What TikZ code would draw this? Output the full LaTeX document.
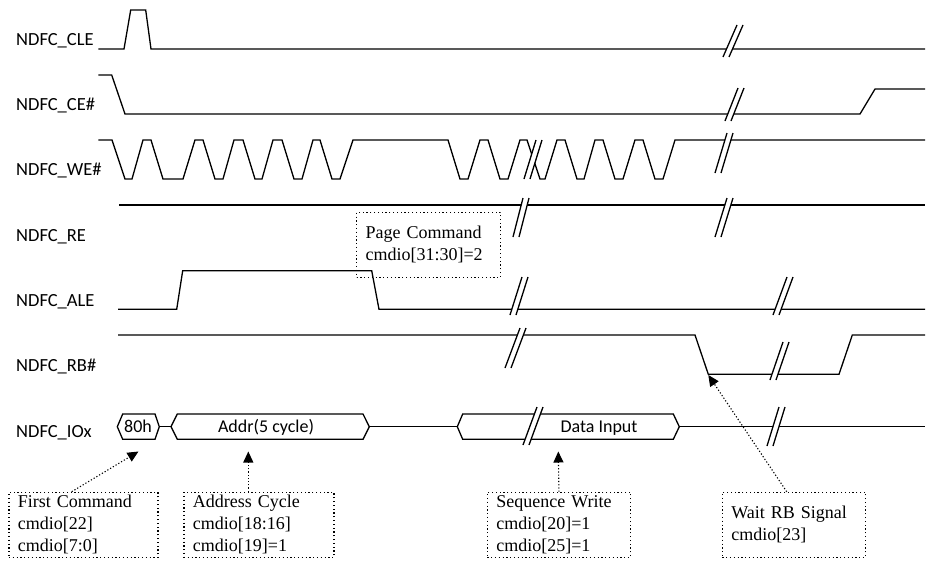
\documentclass[tikz,border=0pt]{standalone}
\usepackage{fontspec}
\setmainfont{Liberation Serif}
\newfontfamily\labfont{Carlito}
\usetikzlibrary{arrows.meta}
\newcommand\sigbreak[4]{%
  \fill[white] (#1,#2) -- (#3,#4) -- ({#3+6},#4) -- ({#1+6},#2) -- cycle;
  \draw[sig] (#1,#2) -- (#3,#4);
  \draw[sig] ({#1+6},#2) -- ({#3+6},#4);}
\begin{document}
\begin{tikzpicture}[x=1pt,y=-1pt,
  sig/.style={line width=1.3pt, line join=miter},
  lbl/.style={font=\labfont\fontsize{18.5}{22}\selectfont, inner sep=0pt, anchor=base west},
  hexlbl/.style={font=\labfont\fontsize{18}{22}\selectfont, inner sep=0pt, anchor=base},
  note/.style={draw, line width=1.2pt, dash pattern=on 1.2pt off 2.6pt, align=left,
    inner xsep=9pt, inner ysep=0pt, anchor=north west, minimum height=65pt,
    font=\fontsize{18}{22}\selectfont},
  conn/.style={line width=1.1pt, dash pattern=on 1.2pt off 2pt,
    -{Triangle[length=11pt,width=10pt]}}
]
\fill[white] (0,0) rectangle (927,560);
\useasboundingbox (0,0) rectangle (927,560);

% labels
\node[lbl] (lcle) at (16,45.5) {NDFC\_CLE};
\node[lbl] (lce)  at (16,110) {NDFC\_CE\#};
\node[lbl] (lwe)  at (16,175.5) {NDFC\_WE\#};
\node[lbl] (lre)  at (16,241) {NDFC\_RE};
\node[lbl] (lale) at (16,306) {NDFC\_ALE};
\node[lbl] (lrb)  at (16,371.7) {NDFC\_RB\#};
\node[lbl] (liox) at (16,437.5) {NDFC\_IOx};

% CLE
\draw[sig] (98.3,49) -- (124,49) -- (130.7,10) -- (145.7,10) -- (151,49) -- (925,49);
% CE#
\draw[sig] (98.3,75) -- (111.7,75) -- (125,114) -- (860,114) -- (875,89) -- (925,89);
% WE#
\draw[sig] (98.3,140) -- (112,140) -- (125,179) -- (132,179) -- (143,140) -- (151,140)
  -- (163,179) -- (183,179) -- (195,140) -- (203,140) -- (215,179) -- (223,179)
  -- (234,140) -- (243,140) -- (255,179) -- (262,179) -- (273,140) -- (282,140)
  -- (294,179) -- (302,179) -- (313,140) -- (320,140) -- (332,179) -- (340,179)
  -- (353,140) -- (448,140) -- (460,179) -- (468,179) -- (480,140) -- (488,140)
  -- (500,179) -- (508,179) -- (520,140) -- (527,140) -- (540,179) -- (545,179)
  -- (557,140) -- (565,140) -- (577,179) -- (584,179) -- (595,140) -- (603,140)
  -- (615,179) -- (623,179) -- (635,140) -- (643,140) -- (655,179) -- (663,179)
  -- (675,140) -- (925,140);
% RE
\draw[sig] (119,205) -- (925,205);
% ALE
\draw[sig] (118,309.3) -- (176.7,309.3) -- (182.7,270.7) -- (371.7,270.7) -- (379,309.3) -- (925,309.3);
% RB#
\draw[sig] (118,335) -- (695,335) -- (708.3,374.3) -- (839,374.3) -- (852.3,335) -- (925,335);
% IOx
\draw[sig] (117.3,426.7) -- (122.7,414) -- (155,414) -- (159.3,426.7) -- (155,439.3) -- (122.7,439.3) -- cycle;
\draw[sig] (159.3,426.7) -- (171,426.7);
\draw[sig] (171,426.7) -- (177.3,414) -- (363,414) -- (369.3,426.7) -- (363,439.3) -- (177.3,439.3) -- cycle;
\draw[sig] (369.3,426.7) -- (457.3,426.7);
\draw[sig] (457.3,426.7) -- (462.7,414) -- (673.3,414) -- (679.3,426.7) -- (673.3,439.3) -- (462.7,439.3) -- cycle;
\draw[sig] (679.3,426.7) -- (925,426.7);

% breaks
\sigbreak{723}{57}{737}{25}
\sigbreak{725}{121}{738}{88}
\sigbreak{524}{179}{536}{140}
\sigbreak{715}{173}{727}{133}
\sigbreak{513}{237}{523}{198}
\sigbreak{715}{237}{727}{198}
\sigbreak{510}{315}{522}{277}
\sigbreak{773}{315}{787}{277}
\sigbreak{505}{368}{520}{328}
\sigbreak{770}{380}{783}{342}
\sigbreak{523}{445}{537}{407}
\sigbreak{767}{446}{779}{407}

% hex labels
\node[hexlbl] (h80) at (138,432) {80h};
\node[hexlbl] (haddr) at (266,432) {Addr(5 cycle)};
\node[hexlbl] (hdata) at (599,432) {Data Input};

% notes
\node[note, text width=126pt] (pc) at (356,211.7) {Page Command\\cmdio[31:30]=2};
\node[note, text width=131pt] (fc) at (8.3,491.7) {First Command\\cmdio[22]\\cmdio[7:0]};
\node[note, text width=132pt] (ac) at (183.3,491.7) {Address Cycle\\cmdio[18:16]\\cmdio[19]=1};
\node[note, text width=125.3pt] (sw) at (486.7,491.7) {Sequence Write\\cmdio[20]=1\\cmdio[25]=1};
\node[note, text width=125.3pt] (wrb) at (721.7,491.7) {Wait RB Signal\\cmdio[23]};

% connectors
\coordinate (t80) at (138.5,451.5);
\coordinate (tad) at (248.3,451.5);
\coordinate (tsw) at (558.3,451.5);
\coordinate (trb) at (708.3,375);
\draw[conn] ([xshift=63.4pt]fc.north west) -- (t80);
\draw[conn] ([xshift=65pt]ac.north west) -- (tad);
\draw[conn] (sw.north) -- (tsw);
\draw[conn] ([xshift=65pt]wrb.north west) -- (trb);
\end{tikzpicture}
\end{document}
